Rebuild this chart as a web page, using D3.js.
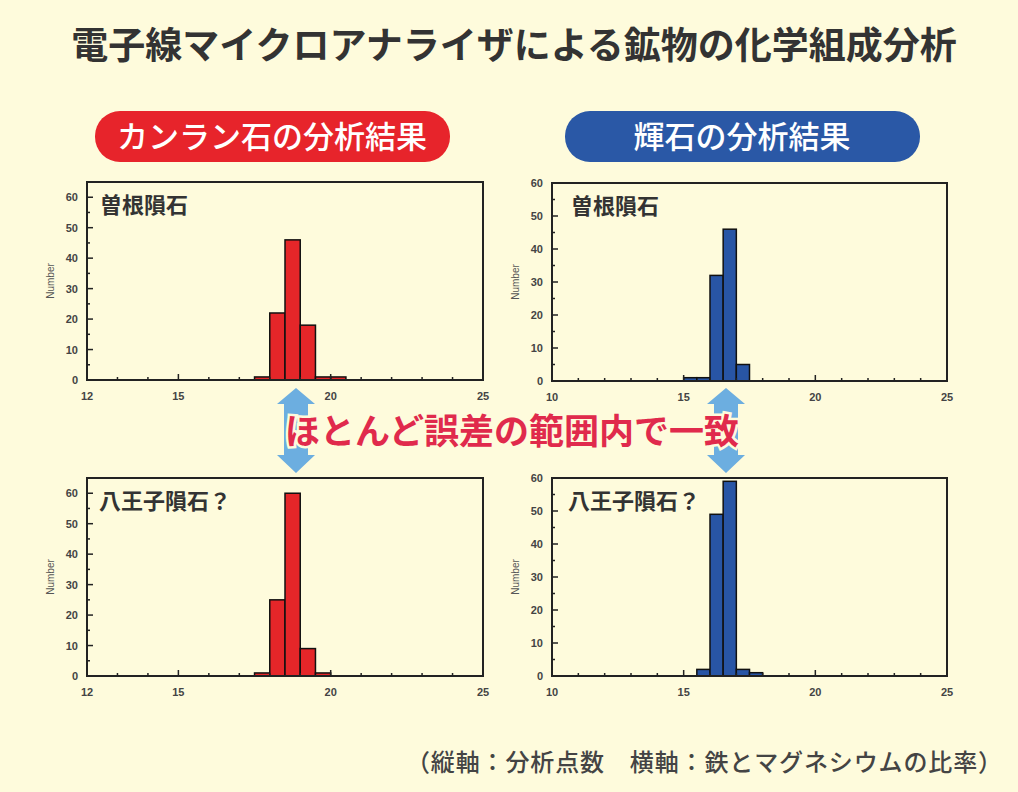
<!DOCTYPE html>
<html>
<head>
<meta charset="utf-8">
<script src="https://cdn.jsdelivr.net/npm/d3@7"></script>
<style>
  html, body { margin: 0; padding: 0; background: #fefbdc; }
  svg { display: block; }
</style>
</head>
<body>
<div id="chart"></div>
<script>
// ヒストグラムの値（ビン幅0.5、各ビンの左端と分析点数）
const binWidth = 0.5;
const olivineSoneStarts = [17.5, 18.0, 18.5, 19.0, 19.5, 20.0];
const olivineSoneCounts = [1, 22, 46, 18, 1, 1];
const olivineHachiojiStarts = [17.5, 18.0, 18.5, 19.0, 19.5];
const olivineHachiojiCounts = [1, 25, 60, 9, 1];
const pyroxeneSoneStarts = [15.0, 15.5, 16.0, 16.5, 17.0];
const pyroxeneSoneCounts = [1, 1, 32, 46, 5];
const pyroxeneHachiojiStarts = [15.5, 16.0, 16.5, 17.0, 17.5];
const pyroxeneHachiojiCounts = [2, 49, 59, 2, 1];

const olivineXTicks = [12, 15, 20, 25];
const pyroxeneXTicks = [10, 15, 20, 25];
const yTickValues = [0, 10, 20, 30, 40, 50, 60];

const W = 1018, H = 792;
const jp = '"Noto Sans CJK JP", "Noto Sans", sans-serif';
const lat = '"Liberation Sans", Arial, sans-serif';

const svg = d3.select('#chart').append('svg')
    .attr('width', W)
    .attr('height', H);

svg.append('rect').attr('width', W).attr('height', H).attr('fill', '#fefbdc');

// タイトル
svg.append('text')
    .attr('x', 514).attr('y', 59)
    .attr('text-anchor', 'middle')
    .attr('font-family', jp).attr('font-weight', 700)
    .attr('font-size', 37).attr('fill', '#333')
    .text('電子線マイクロアナライザによる鉱物の化学組成分析');

// 見出しボタン
const heads = [
    { text: 'カンラン石の分析結果', x: 95, color: '#e7242b' },
    { text: '輝石の分析結果', x: 565, color: '#2a58a6' }
];
heads.forEach(h => {
    svg.append('rect')
        .attr('x', h.x).attr('y', 111)
        .attr('width', 355).attr('height', 51)
        .attr('rx', 25).attr('fill', h.color);
    svg.append('text')
        .attr('x', h.x + 177).attr('y', 148)
        .attr('text-anchor', 'middle')
        .attr('font-family', jp).attr('font-weight', 500)
        .attr('font-size', 31).attr('fill', '#fff')
        .text(h.text);
});

// パネル
function drawPanel(p) {
    const x = d3.scaleLinear().domain(p.xDomain).range([p.left, p.right]);
    const y = d3.scaleLinear().domain(p.yDomain).range([p.bottom, p.top]);
    const g = svg.append('g');

    const bins = p.starts.map((s, i) => ({ x0: s, x1: s + binWidth, n: p.counts[i] }));
    g.selectAll('rect.bar')
        .data(bins)
        .enter()
        .append('rect')
        .attr('class', 'bar')
        .attr('x', d => x(d.x0))
        .attr('y', d => y(d.n))
        .attr('width', d => x(d.x1) - x(d.x0))
        .attr('height', d => y(0) - y(d.n))
        .attr('fill', p.color)
        .attr('stroke', '#111')
        .attr('stroke-width', 1.5);

    // 枠
    g.append('rect')
        .attr('x', p.left).attr('y', p.top)
        .attr('width', p.right - p.left).attr('height', p.bottom - p.top)
        .attr('fill', 'none').attr('stroke', '#222').attr('stroke-width', 2);

    // 内向きの目盛り
    const xMinor = d3.range(p.xDomain[0] + 1, p.xDomain[1], 1);
    g.selectAll('line.xt')
        .data(xMinor)
        .enter()
        .append('line')
        .attr('x1', d => x(d)).attr('x2', d => x(d))
        .attr('y1', p.bottom).attr('y2', d => p.bottom - (d % 5 === 0 ? 6 : 3))
        .attr('stroke', '#222').attr('stroke-width', 1.5);
    const yMinor = d3.range(5, p.yDomain[1], 5);
    g.selectAll('line.yt')
        .data(yMinor)
        .enter()
        .append('line')
        .attr('y1', d => y(d)).attr('y2', d => y(d))
        .attr('x1', p.left).attr('x2', d => p.left + (d % 10 === 0 ? 6 : 3))
        .attr('stroke', '#222').attr('stroke-width', 1.5);

    g.selectAll('text.xl')
        .data(p.xTicks)
        .enter()
        .append('text')
        .attr('x', d => x(d)).attr('y', p.bottom + 20)
        .attr('text-anchor', 'middle')
        .attr('font-family', lat).attr('font-weight', 700)
        .attr('font-size', 11).attr('fill', '#444')
        .text(d => d);
    g.selectAll('text.yl')
        .data(yTickValues)
        .enter()
        .append('text')
        .attr('x', p.left - 9).attr('y', d => y(d) + 4)
        .attr('text-anchor', 'end')
        .attr('font-family', lat).attr('font-weight', 700)
        .attr('font-size', 11).attr('fill', '#444')
        .text(d => d);

    g.append('text')
        .attr('transform', `translate(${p.left - 33},${(p.top + p.bottom) / 2}) rotate(-90)`)
        .attr('text-anchor', 'middle')
        .attr('font-family', lat).attr('font-size', 10).attr('fill', '#555')
        .text('Number');

    g.append('text')
        .attr('x', p.label.x).attr('y', p.top + 31)
        .attr('font-family', jp).attr('font-weight', 700)
        .attr('font-size', 22).attr('fill', '#333')
        .text(p.label.text);
}

const red = '#e52629', blue = '#2855a5';
drawPanel({ left: 87, right: 483, top: 182, bottom: 380, xDomain: [12, 25], yDomain: [0, 65],
    xTicks: olivineXTicks, starts: olivineSoneStarts, counts: olivineSoneCounts, color: red,
    label: { text: '曽根隕石', x: 100 } });
drawPanel({ left: 552, right: 947, top: 183, bottom: 381, xDomain: [10, 25], yDomain: [0, 60],
    xTicks: pyroxeneXTicks, starts: pyroxeneSoneStarts, counts: pyroxeneSoneCounts, color: blue,
    label: { text: '曽根隕石', x: 571 } });
drawPanel({ left: 87, right: 483, top: 478, bottom: 676, xDomain: [12, 25], yDomain: [0, 65],
    xTicks: olivineXTicks, starts: olivineHachiojiStarts, counts: olivineHachiojiCounts, color: red,
    label: { text: '八王子隕石？', x: 99 } });
drawPanel({ left: 552, right: 947, top: 478, bottom: 676, xDomain: [10, 25], yDomain: [0, 60],
    xTicks: pyroxeneXTicks, starts: pyroxeneHachiojiStarts, counts: pyroxeneHachiojiCounts, color: blue,
    label: { text: '八王子隕石？', x: 568 } });

// 両矢印
[296, 726].forEach(cx => {
    const path = d3.path();
    path.moveTo(cx, 388);
    path.lineTo(cx + 19, 404);
    path.lineTo(cx + 12, 404);
    path.lineTo(cx + 12, 455);
    path.lineTo(cx + 19, 455);
    path.lineTo(cx, 473);
    path.lineTo(cx - 19, 455);
    path.lineTo(cx - 12, 455);
    path.lineTo(cx - 12, 404);
    path.lineTo(cx - 19, 404);
    path.closePath();
    svg.append('path').attr('d', path.toString()).attr('fill', '#6caee0');
});

svg.append('text')
    .attr('x', 512).attr('y', 444)
    .attr('text-anchor', 'middle')
    .attr('font-family', jp).attr('font-weight', 700)
    .attr('font-size', 35).attr('fill', '#e02a4c')
    .attr('stroke', '#fefbdc').attr('stroke-width', 5).attr('paint-order', 'stroke')
    .text('ほとんど誤差の範囲内で一致');

svg.append('text')
    .attr('x', 406).attr('y', 771)
    .attr('font-family', jp).attr('font-weight', 500)
    .attr('font-size', 24).attr('fill', '#444')
    .attr('textLength', 596).attr('lengthAdjust', 'spacing')
    .text('（縦軸：分析点数　横軸：鉄とマグネシウムの比率）');
</script>
</body>
</html>
